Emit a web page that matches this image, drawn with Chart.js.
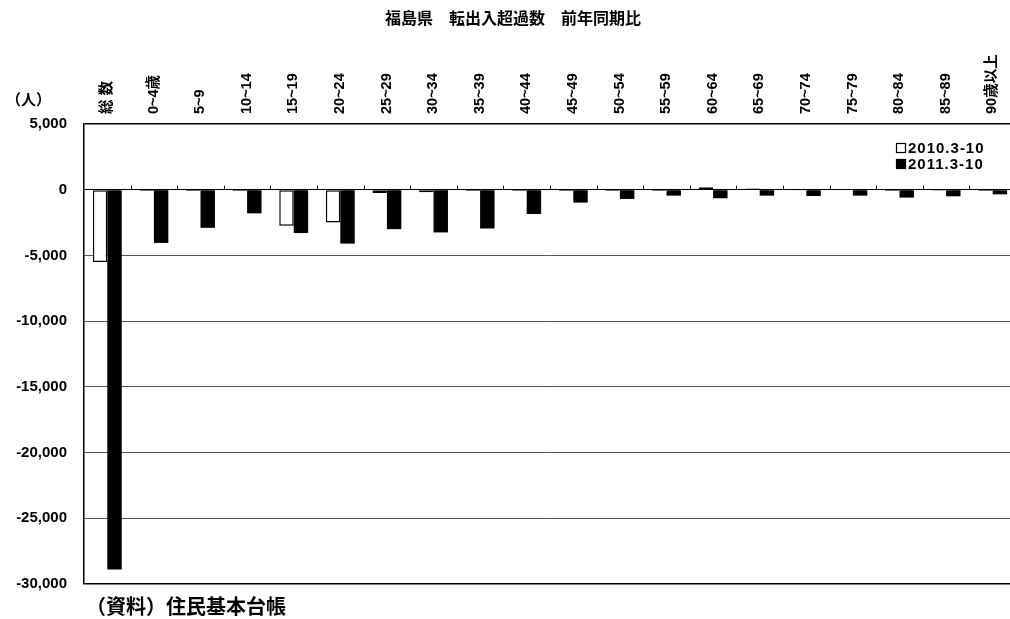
<!DOCTYPE html>
<html>
<head>
<meta charset="utf-8">
<script src="https://cdn.jsdelivr.net/npm/chart.js@4/dist/chart.umd.min.js"></script>
<style>
  html, body { margin: 0; padding: 0; background: #fff; overflow: hidden; }
  #wrap { position: absolute; left: 0; top: 0; width: 1030px; height: 619px; }
</style>
</head>
<body>
<div id="wrap"><canvas id="c" width="1030" height="619"></canvas></div>
<script>
// 年齢階級
const categories = ['総 数', '0~4歳', '5~9', '10~14', '15~19', '20~24', '25~29', '30~34', '35~39',
  '40~44', '45~49', '50~54', '55~59', '60~64', '65~69', '70~74', '75~79', '80~84', '85~89', '90歳以上'];

// 転出入超過数（人）
const values2010 = [-5500, -100, -100, -100, -2750, -2500, -250, -200, -100,
  -100, -100, -100, -100, 180, 100, -30, -50, -100, -80, -100];
const values2011 = [-28900, -4050, -2900, -1800, -3300, -4100, -3000, -3250, -2950,
  -1850, -980, -700, -450, -650, -450, -480, -450, -600, -500, -350];

const seriesLabels = ['2010.3-10', '2011.3-10'];
const yTicks = [5000, 0, -5000, -10000, -15000, -20000, -25000, -30000];

const titleText = '福島県　転出入超過数　前年同期比';
const unitText = '（人）';
const sourceText = '（資料）住民基本台帳';

const FONT = "'Liberation Sans', 'Noto Sans CJK JP', sans-serif";
const CJK = "'Noto Sans CJK JP', 'Liberation Sans', sans-serif";

// 見出し・単位・出典・凡例・区切り目盛
const decorations = {
  id: 'decorations',
  afterDatasetsDraw(chart) {
    const { ctx, chartArea, scales } = chart;
    const x = scales.x, y = scales.y;
    ctx.save();
    // 0 線上の区切り目盛
    const y0 = y.getPixelForValue(0);
    ctx.strokeStyle = '#000';
    ctx.lineWidth = 1;
    for (let i = 1; i < categories.length; i++) {
      const px = Math.round((x.getPixelForValue(i - 1) + x.getPixelForValue(i)) / 2) + 0.5;
      ctx.beginPath();
      ctx.moveTo(px, y0);
      ctx.lineTo(px, y0 - 4);
      ctx.stroke();
    }
    // 凡例
    const lx = 896, ly = chartArea.top + 24;
    ctx.font = 'bold 15px ' + FONT;
    ctx.letterSpacing = '1px';
    ctx.textBaseline = 'middle';
    ctx.textAlign = 'left';
    chart.data.datasets.forEach((ds, i) => {
      const cy = ly + i * 16;
      ctx.fillStyle = ds.backgroundColor;
      ctx.fillRect(lx, cy - 5, 10, 10);
      ctx.strokeStyle = '#000';
      ctx.lineWidth = 1.2;
      ctx.strokeRect(lx + 0.5, cy - 4.5, 9, 9);
      ctx.fillStyle = '#000';
      ctx.fillText(ds.label, lx + 12, cy + 1);
    });
    ctx.restore();
  },
  afterDraw(chart) {
    const { ctx } = chart;
    ctx.save();
    ctx.fillStyle = '#000';
    ctx.textBaseline = 'middle';
    ctx.textAlign = 'center';
    ctx.font = 'bold 16px ' + CJK;
    ctx.fillText(titleText, 513, 18);
    ctx.textAlign = 'left';
    ctx.font = 'bold 15px ' + CJK;
    ctx.fillText(unitText, 6, 99);
    ctx.font = 'bold 20px ' + CJK;
    ctx.fillText(sourceText, 86, 606);
    ctx.restore();
  }
};

new Chart(document.getElementById('c'), {
  type: 'bar',
  data: {
    labels: categories,
    datasets: [
      { label: seriesLabels[0], data: values2010, backgroundColor: '#ffffff', borderColor: '#000000', borderWidth: 1.5, borderSkipped: false },
      { label: seriesLabels[1], data: values2011, backgroundColor: '#000000', borderColor: '#000000', borderWidth: 0 }
    ]
  },
  options: {
    responsive: false,
    animation: false,
    layout: { padding: { left: 0, right: 14, top: 0, bottom: 35 } },
    datasets: { bar: { categoryPercentage: 0.62, barPercentage: 1 } },
    plugins: { legend: { display: false }, title: { display: false }, tooltip: { enabled: false } },
    scales: {
      x: {
        position: 'top',
        grid: { display: false },
        border: { display: false },
        ticks: {
          autoSkip: false, maxRotation: 90, minRotation: 90, padding: 2, labelOffset: 17,
          color: '#000', font: { family: FONT, size: 14.5, weight: 'bold' }
        },
        afterFit(scale) { scale.height = 124; }
      },
      y: {
        min: -30000, max: 5000,
        afterBuildTicks(scale) { scale.ticks = yTicks.map(v => ({ value: v })); },
        grid: {
          drawTicks: false,
          color: c => (c.tick && (c.tick.value === 0 || c.tick.value === 5000 || c.tick.value === -30000)) ? '#000' : '#555',
          lineWidth: c => (c.tick && (c.tick.value === 5000 || c.tick.value === -30000)) ? 1.5 : 1
        },
        border: { color: '#000', width: 1.5 },
        ticks: {
          padding: 17, color: '#000',
          font: { family: FONT, size: 15, weight: 'bold' },
          callback: v => v.toLocaleString('en-US')
        },
        afterFit(scale) { scale.width = 84; }
      }
    }
  },
  plugins: [decorations]
});
</script>
</body>
</html>
